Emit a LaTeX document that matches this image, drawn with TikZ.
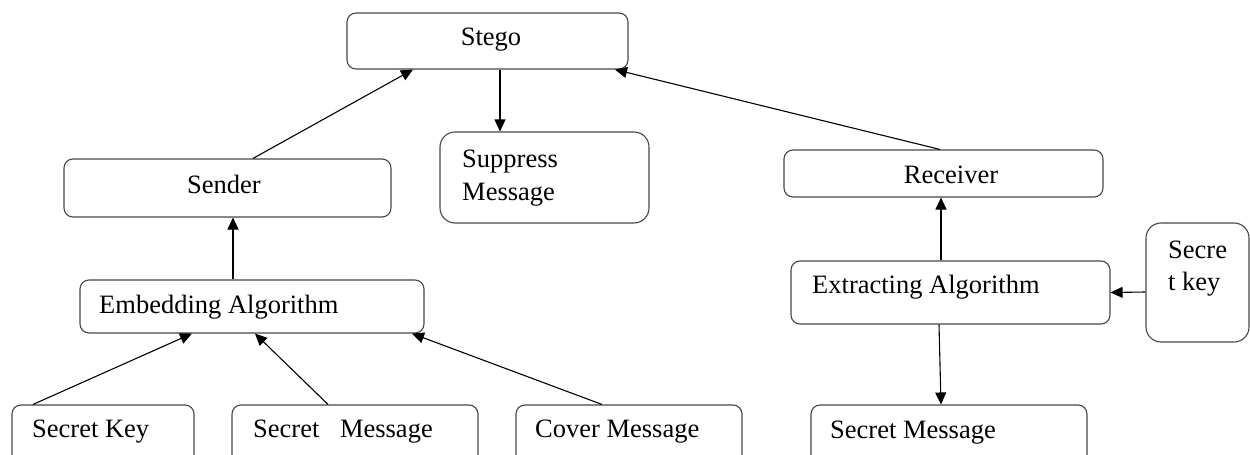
\documentclass[tikz,border=0pt]{standalone}
\usepackage{fontspec}
\setmainfont{Liberation Serif}
\usetikzlibrary{arrows.meta}
\tikzset{
  box/.style={draw=black!72, line width=1.1pt, rounded corners=9pt, inner sep=0pt, fill=none},
  bigbox/.style={box, rounded corners=15pt},
  lbl/.style={font=\fontsize{26.5}{31}\selectfont, inner sep=0pt, anchor=base west},
  clbl/.style={lbl, anchor=base},
  arr/.style={-{Triangle[length=12pt,width=11pt]}, line width=1.1pt, black}
}
\begin{document}
\begin{tikzpicture}[x=1pt,y=-1pt]
\clip (0,0) rectangle (1250,455);
\fill[white] (0,0) rectangle (1250,455);
% boxes
\node[box, minimum width=281pt, minimum height=56pt] (stego) at (487.5,41) {};
\node[box, minimum width=327pt, minimum height=58pt] (sender) at (227.5,188) {};
\node[bigbox, minimum width=209pt, minimum height=91pt] (suppress) at (544.5,177.5) {};
\node[box, minimum width=319pt, minimum height=47pt] (receiver) at (943.5,173.5) {};
\node[box, minimum width=344pt, minimum height=53pt] (embed) at (252,306.5) {};
\node[box, minimum width=319pt, minimum height=63pt] (extract) at (950.5,292.5) {};
\node[bigbox, minimum width=103pt, minimum height=119pt] (skeyR) at (1197.5,282.5) {};
\node[box, minimum width=182pt, minimum height=70pt] (skey) at (103,440) {};
\node[box, minimum width=246pt, minimum height=70pt] (smsgL) at (355,440) {};
\node[box, minimum width=226pt, minimum height=70pt] (cover) at (629,440) {};
\node[box, minimum width=276pt, minimum height=70pt] (smsgR) at (949,440) {};
% texts
\node[clbl] (stegoT) at (491,45) {Stego};
\node[clbl] (senderT) at (224,193) {Sender};
\node[lbl] (suppressT1) at (462,167) {Suppress};
\node[lbl] (suppressT2) at (462,200) {Message};
\node[clbl] (receiverT) at (951,183) {Receiver};
\node[lbl] (embedT) at (99,313) {Embedding Algorithm};
\node[lbl] (extractT) at (812,293) {Extracting Algorithm};
\node[lbl] (skeyRT1) at (1168,258) {Secre};
\node[lbl] (skeyRT2) at (1168,290) {t key};
\node[lbl] (skeyT) at (32,437) {Secret Key};
\node[lbl] (smsgLT) at (253,437) {Secret\hspace{14pt} Message};
\node[lbl] (coverT) at (535,437) {Cover Message};
\node[lbl] (smsgRT) at (830,438) {Secret Message};
% connectors
\draw[arr] ([xshift=25.5pt]sender.north) -- ([xshift=-74.5pt]stego.south);
\draw[arr] ([xshift=12.5pt]stego.south) -- ([xshift=-44.5pt]suppress.north);
\draw[arr] ([xshift=-3.5pt]receiver.north) -- ([xshift=127.5pt]stego.south);
\draw[arr] ([xshift=-19pt]embed.north) -- ([xshift=5.5pt]sender.south);
\draw[arr] ([xshift=-9.5pt]extract.north) -- ([xshift=-2.5pt]receiver.south);
\draw[arr] ([xshift=-11.5pt]extract.south) -- ([xshift=-8pt]smsgR.north);
\draw[arr] ([yshift=-9.5pt]skeyR.west) -- (extract.east);
\draw[arr] ([xshift=-70pt]skey.north) -- ([xshift=-60pt]embed.south);
\draw[arr] ([xshift=-27pt]smsgL.north) -- ([xshift=3pt]embed.south);
\draw[arr] ([xshift=-27pt]cover.north) -- ([xshift=160pt]embed.south);
\end{tikzpicture}
\end{document}
